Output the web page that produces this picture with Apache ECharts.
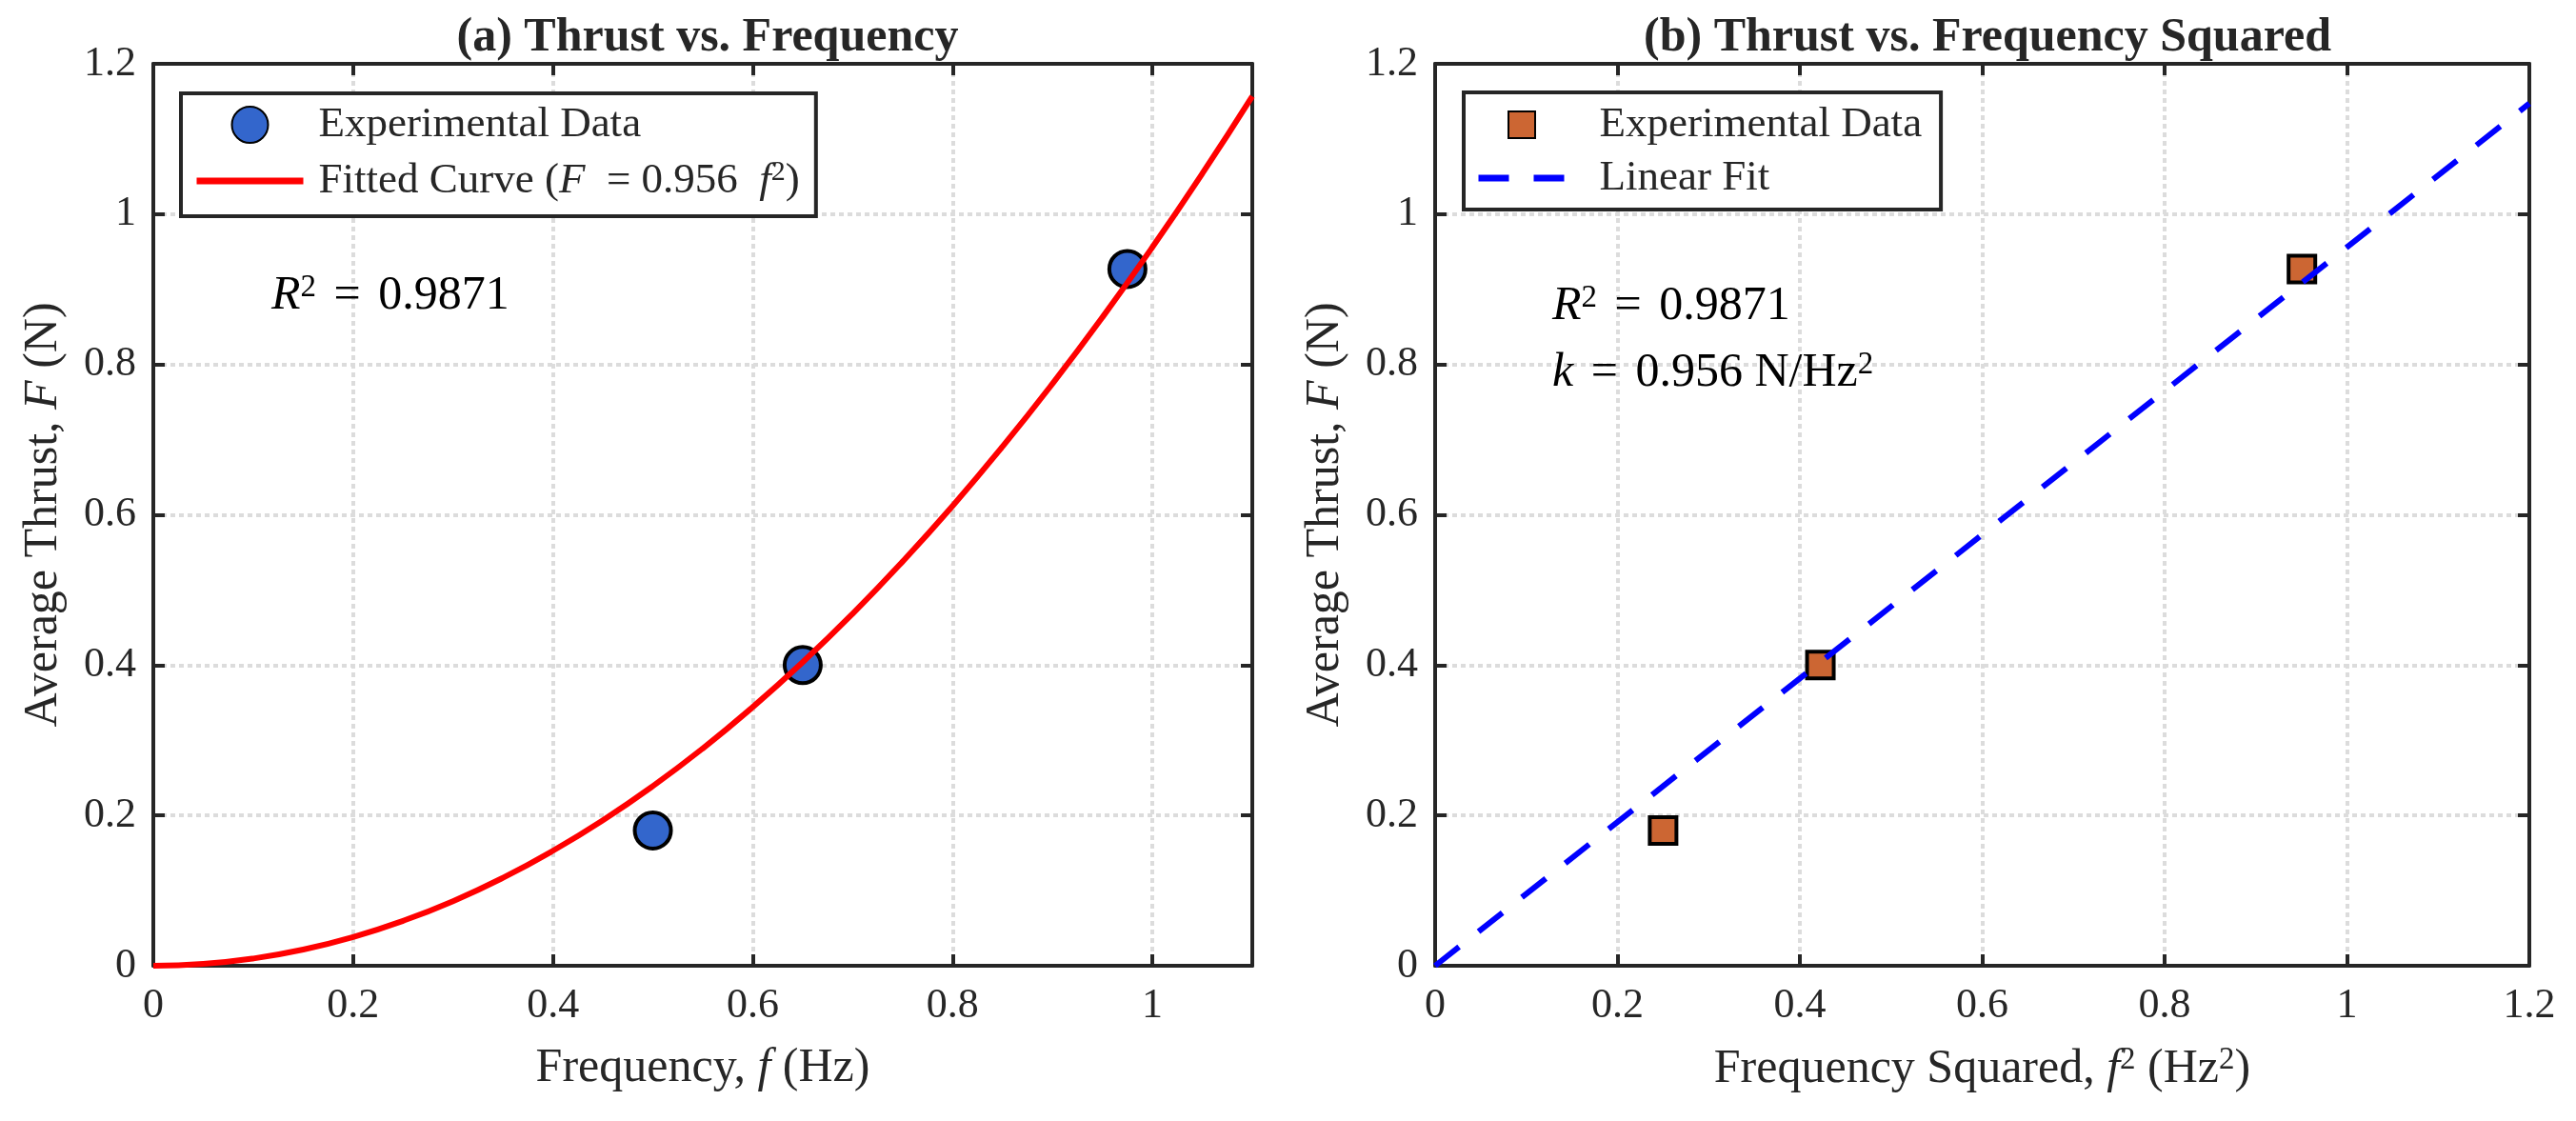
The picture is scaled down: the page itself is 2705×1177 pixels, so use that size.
<!DOCTYPE html>
<html>
<head>
<meta charset="utf-8">
<script src="https://cdn.jsdelivr.net/npm/echarts@6/dist/echarts.min.js"></script>
<style>
  html, body { margin: 0; padding: 0; background: #fff; }
  #main { width: 2705px; height: 1177px; }
</style>
</head>
<body>
<div id="main"></div>
<script>
// measured data
var freq = [0.5, 0.65, 0.975];
var thrust = [0.18, 0.40, 0.927];
var freqSq = [0.25, 0.4225, 0.9506];
var fitFreq = [0, 0.05, 0.1, 0.15, 0.2, 0.25, 0.3, 0.35, 0.4, 0.45, 0.5, 0.55,
               0.6, 0.65, 0.7, 0.75, 0.8, 0.85, 0.9, 0.95, 1.0, 1.05, 1.1];
var fitThrust = [0, 0.0024, 0.0096, 0.0215, 0.0382, 0.0598, 0.086, 0.1171, 0.153, 0.1936, 0.239, 0.2892,
                 0.3442, 0.4039, 0.4684, 0.5378, 0.6118, 0.6907, 0.7744, 0.8628, 0.956, 1.054, 1.1568];
// linear fit through origin
var linX = [0, 1.2];
var linY = [0, 1.1472];

var yTicks = { min: 0, max: 1.2, interval: 0.2 };
var xTicksA = { min: 0, max: 1.1, interval: 0.2 };
var xTicksB = { min: 0, max: 1.2, interval: 0.2 };

var FONT = "'Liberation Serif', serif";
var INK = '#262626';

function pairs(xs, ys) {
    return xs.map(function (x, i) { return [x, ys[i]]; });
}

function mainAxis(t, gridIndex, pos, name, gap, showMax) {
    return {
        type: 'value', gridIndex: gridIndex, position: pos,
        min: t.min, max: t.max, interval: t.interval,
        name: name, nameLocation: 'middle', nameGap: gap,
        nameTextStyle: {
            fontFamily: FONT, fontSize: 50, color: INK,
            rich: {
                i: { fontFamily: FONT, fontSize: 50, fontStyle: 'italic', color: INK },
                s: { fontFamily: FONT, fontSize: 33, verticalAlign: 'top', color: INK, lineHeight: 52 }
            }
        },
        axisLine: { show: true, onZero: false, lineStyle: { color: INK, width: 4 } },
        axisTick: { show: true, inside: true, length: 12, lineStyle: { color: INK, width: 4 } },
        axisLabel: { fontFamily: FONT, fontSize: 44, color: INK, margin: pos === 'bottom' ? 20 : 18,
                     showMaxLabel: showMax },
        splitLine: { show: true, lineStyle: { color: '#dcdcdc', width: 4, type: [5, 4] } }
    };
}

function mirrorAxis(t, gridIndex, pos) {
    return {
        type: 'value', gridIndex: gridIndex, position: pos,
        min: t.min, max: t.max, interval: t.interval,
        axisLine: { show: true, onZero: false, lineStyle: { color: INK, width: 4 } },
        axisTick: { show: true, inside: true, length: 12, lineStyle: { color: INK, width: 4 } },
        axisLabel: { show: false },
        splitLine: { show: false }
    };
}

var legendNames = {
    expA: 'Experimental Data',
    fitA: 'Fitted Curve ({i|F}  = 0.956  {i|f}{s|2})',
    expB: 'Experimental Data',
    fitB: 'Linear Fit'
};

function legendText(extra) {
    return {
        fontFamily: FONT, fontSize: 45, color: INK, lineHeight: 48,
        padding: [0, 0, 0, extra],
        rich: {
            i: { fontFamily: FONT, fontSize: 45, fontStyle: 'italic', color: INK, lineHeight: 48 },
            s: { fontFamily: FONT, fontSize: 30, verticalAlign: 'top', color: INK, lineHeight: 48 }
        }
    };
}

var hideSymbol = { color: 'rgba(0,0,0,0)', borderColor: 'rgba(0,0,0,0)', borderWidth: 0, opacity: 0 };

function annot(text) {
    return {
        text: text, fontFamily: FONT, fontSize: 50, fill: '#000',
        rich: {
            i: { fontFamily: FONT, fontSize: 50, fontStyle: 'italic', fill: '#000', lineHeight: 50 },
            s: { fontFamily: FONT, fontSize: 33, verticalAlign: 'top', fill: '#000', lineHeight: 50 },
            e: { fontFamily: FONT, fontSize: 50, fill: '#000', lineHeight: 50, padding: [0, 6, 0, 6] },
            n: { fontFamily: FONT, fontSize: 50, fill: '#000', lineHeight: 50 }
        }
    };
}

var chart = echarts.init(document.getElementById('main'));
chart.setOption({
    backgroundColor: '#fff',
    animation: false,
    textStyle: { fontFamily: FONT, color: INK },
    title: [
        { text: '(a) Thrust vs. Frequency', left: 738, top: 10, textAlign: 'center',
          textStyle: { fontFamily: FONT, fontSize: 50, fontWeight: 'bold', color: INK } },
        { text: '(b) Thrust vs. Frequency Squared', left: 2082, top: 10, textAlign: 'center',
          textStyle: { fontFamily: FONT, fontSize: 50, fontWeight: 'bold', color: INK } }
    ],
    grid: [
        { left: 161, top: 67, width: 1154, height: 947 },
        { left: 1507, top: 67, width: 1149, height: 947 }
    ],
    xAxis: [
        mainAxis(xTicksA, 0, 'bottom', 'Frequency, {i|f} (Hz)', 83, false),
        mirrorAxis(xTicksA, 0, 'top'),
        mainAxis(xTicksB, 1, 'bottom', 'Frequency Squared, {i|f}{s|2} (Hz{s|2})', 83, true),
        mirrorAxis(xTicksB, 1, 'top')
    ],
    yAxis: [
        mainAxis(yTicks, 0, 'left', 'Average Thrust, {i|F} (N)', 90, true),
        mirrorAxis(yTicks, 0, 'right'),
        mainAxis(yTicks, 1, 'left', 'Average Thrust, {i|F} (N)', 90, true),
        mirrorAxis(yTicks, 1, 'right')
    ],
    legend: [
        {
            data: [{ name: 'expA' }, { name: 'fitA', itemStyle: hideSymbol }],
            orient: 'vertical', align: 'left', left: 190, top: 98,
            itemWidth: 112, itemHeight: 38, itemGap: 11,
            padding: [9, 17, 13, 13],
            backgroundColor: '#fff', borderColor: INK, borderWidth: 4, borderRadius: 0,
            selectedMode: false,
            lineStyle: { width: 7 },
            formatter: function (n) { return legendNames[n]; },
            textStyle: legendText(11)
        },
        {
            data: [{ name: 'expB', icon: 'path://M0 0H10V10H0Z' }, { name: 'fitB', itemStyle: hideSymbol }],
            orient: 'vertical', align: 'left', left: 1537, top: 97,
            itemWidth: 91, itemHeight: 28, itemGap: 8, symbolKeepAspect: true,
            padding: [10, 20, 9, 12],
            backgroundColor: '#fff', borderColor: INK, borderWidth: 4, borderRadius: 0,
            selectedMode: false,
            lineStyle: { width: 7 },
            formatter: function (n) { return legendNames[n]; },
            textStyle: legendText(31)
        }
    ],
    graphic: [
        { type: 'text', left: 285, top: 286, z: 100, style: annot('{i|R}{s|2}{n| }{e|=}{n| 0.9871}') },
        { type: 'text', left: 1630, top: 297, z: 100, style: annot('{i|R}{s|2}{n| }{e|=}{n| 0.9871}') },
        { type: 'text', left: 1630, top: 367, z: 100, style: annot('{i|k}{n| }{e|=}{n| 0.956 N/Hz}{s|2}') }
    ],
    series: [
        {
            name: 'expA', type: 'scatter', xAxisIndex: 0, yAxisIndex: 0,
            symbol: 'circle', symbolSize: 38, z: 3,
            itemStyle: { color: '#3366cc', borderColor: '#000', borderWidth: 4, opacity: 1 },
            data: pairs(freq, thrust)
        },
        {
            name: 'fitA', type: 'line', xAxisIndex: 0, yAxisIndex: 0,
            showSymbol: false, symbol: 'none', smooth: true, z: 4,
            lineStyle: { color: '#ff0000', width: 6 },
            itemStyle: { color: '#ff0000' },
            data: pairs(fitFreq, fitThrust)
        },
        {
            name: 'expB', type: 'scatter', xAxisIndex: 2, yAxisIndex: 2,
            symbol: 'rect', symbolSize: 28, z: 3,
            itemStyle: { color: '#cc6633', borderColor: '#000', borderWidth: 4, opacity: 1 },
            data: pairs(freqSq, thrust)
        },
        {
            name: 'fitB', type: 'line', xAxisIndex: 2, yAxisIndex: 2,
            showSymbol: false, symbol: 'none', z: 4,
            lineStyle: { color: '#0000ff', width: 6, type: [32, 26] },
            itemStyle: { color: '#0000ff' },
            data: pairs(linX, linY)
        }
    ]
});
</script>
</body>
</html>
